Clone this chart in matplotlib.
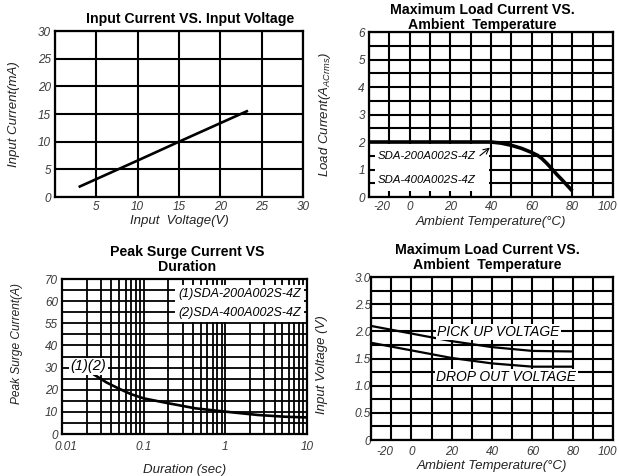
import matplotlib
matplotlib.use("Agg")
import matplotlib.pyplot as plt
from matplotlib.patches import Rectangle
from matplotlib.transforms import ScaledTranslation
import numpy as np

plt.rcParams['font.family'] = ['Liberation Sans', 'DejaVu Sans']
plt.rcParams['font.style'] = 'italic'      # ticks, labels and notes are italic
plt.rcParams['axes.unicode_minus'] = False
plt.rcParams['mathtext.fontset'] = 'custom'
plt.rcParams['mathtext.it'] = 'Liberation Sans:italic'
plt.rcParams['mathtext.rm'] = 'Liberation Sans:italic'

TICK_COLOR = '#3a3a3a'
LABEL_COLOR = '#222222'

# --- data ---
# Input current vs input voltage
in_voltage = [3.0, 10.0, 15.0, 23.2]
in_current = [1.9, 6.6, 10.0, 15.5]

# Maximum load current vs ambient temperature
load_temp = [-20, 0, 20, 40, 45, 50, 55, 60, 63, 65, 67.5, 70, 72.5, 75, 77.5, 80]
load_current = [2.0, 2.0, 2.0, 2.0, 1.96, 1.88, 1.77, 1.62, 1.51, 1.4, 1.22,
                1.02, 0.81, 0.62, 0.42, 0.22]
load_models = ['SDA-200A002S-4Z', 'SDA-400A002S-4Z']

# Peak surge current vs duration
surge_dur = [0.025, 0.035, 0.049, 0.07, 0.1, 0.2, 0.43, 1.0, 2.5, 5.4, 10.0]
surge_current = [26.7, 23.3, 20.6, 18.0, 16.1, 13.9, 11.6, 10.1, 8.6, 7.8, 7.5]
surge_yticks = [0, 10, 20, 30, 40, 50, 60, 70]
surge_ylabels = ['0', '10', '20', '30', '40', '55', '60', '70']
surge_xticks = [0.01, 0.1, 1, 10]
surge_xlabels = ['0.01', '0.1', '1', '10']

# Pick up / drop out voltage vs ambient temperature
volt_temp = [-20, 0, 20, 40, 60, 80]
pickup_v = [2.1, 1.96, 1.82, 1.71, 1.64, 1.63]
dropout_v = [1.79, 1.65, 1.51, 1.41, 1.35, 1.35]

temp_ticks = [-20, 0, 20, 40, 60, 80, 100]


def style_axes(ax, lw=1.5):
    for s in ax.spines.values():
        s.set_linewidth(1.6)
        s.set_color('black')
    ax.tick_params(which='both', length=0, pad=3, labelsize=8.5,
                   labelcolor=TICK_COLOR)
    ax.grid(True, which='both', color='black', linewidth=lw)
    ax.set_axisbelow(True)


def shift(label, dx_px):
    label.set_transform(label.get_transform() +
                        ScaledTranslation(dx_px / 72, 0, fig.dpi_scale_trans))


fig = plt.figure(figsize=(6.19, 4.76), dpi=100)

# ---------- panel 1 ----------
ax1 = fig.add_axes([0.0889, 0.5861, 0.4006, 0.3487])
ax1.plot(in_voltage, in_current, color='black', linewidth=1.9)
ax1.set_xlim(0, 30)
ax1.set_ylim(0, 30)
ax1.set_xticks(np.arange(0, 31, 5))
ax1.set_xticklabels([''] + [str(v) for v in range(5, 31, 5)])
ax1.set_yticks(np.arange(0, 31, 5))
style_axes(ax1)
ax1.set_title('Input Current VS. Input Voltage', fontsize=10.2,
              fontweight='bold', style='normal', pad=6, x=0.544)
ax1.set_xlabel('Input  Voltage(V)', fontsize=9.5, color=LABEL_COLOR,
               labelpad=1)
ax1.set_ylabel('Input Current(mA)', fontsize=9.5, color=LABEL_COLOR)
ax1.yaxis.set_label_coords(-0.141, 0.5)

# ---------- panel 2 ----------
ax2 = fig.add_axes([0.5961, 0.5861, 0.3942, 0.3466])
ax2.plot(load_temp, load_current, color='black', linewidth=2.6,
         solid_capstyle='butt', zorder=4)
ax2.set_xlim(-20, 100)
ax2.set_ylim(0, 6)
ax2.set_xticks(temp_ticks)
ax2.set_xticks(np.arange(-20, 101, 10), minor=True)
ax2.set_yticks(np.arange(0, 7, 1))
ax2.set_yticks(np.arange(0, 6.01, 0.5), minor=True)
style_axes(ax2)
ax2.add_patch(Rectangle((-17, 0.22), 56, 1.72, facecolor='white',
                        edgecolor='none', zorder=2))
ax2.text(-15.5, 1.5, load_models[0], fontsize=8.2, va='center', zorder=3)
ax2.text(-15.5, 0.62, load_models[1], fontsize=8.2, va='center', zorder=3)
ax2.annotate('', xy=(40.5, 1.86), xytext=(33.5, 1.44),
             arrowprops=dict(arrowstyle='->', lw=0.8, color='black'),
             zorder=3)
ax2.set_title('Maximum Load Current VS.\nAmbient  Temperature', fontsize=10.2,
              fontweight='bold', style='normal', pad=0, x=0.463,
              linespacing=1.1)
ax2.set_xlabel('Ambient Temperature(°C)', fontsize=9.5, color=LABEL_COLOR,
               labelpad=2)
ax2.set_ylabel(r'Load Current(A$_{\mathit{ACrms}}$)', fontsize=9.5,
               color=LABEL_COLOR)
ax2.yaxis.set_label_coords(-0.148, 0.5)

# ---------- panel 3 ----------
ax3 = fig.add_axes([0.1002, 0.0882, 0.3958, 0.3256])
ax3.plot(surge_dur, surge_current, color='black', linewidth=1.9, zorder=4)
ax3.set_xscale('log')
ax3.set_xlim(0.01, 10)
ax3.set_ylim(0, 70)
ax3.set_xticks(surge_xticks)
ax3.set_xticklabels(surge_xlabels)
ax3.xaxis.set_minor_formatter(matplotlib.ticker.NullFormatter())
ax3.set_yticks(surge_yticks)
ax3.set_yticklabels(surge_ylabels)
ax3.set_yticks(np.arange(0, 71, 5), minor=True)
style_axes(ax3, lw=1.3)
ax3.tick_params(axis='x', pad=5)
ax3.text(0.975, 0.94, '(1)' + load_models[0] + '\n(2)' + load_models[1],
         transform=ax3.transAxes, ha='right', va='top', fontsize=9,
         linespacing=1.7, zorder=5,
         bbox=dict(facecolor='white', edgecolor='none', pad=2.5))
ax3.text(0.0128, 30.5, '(1)(2)', fontsize=10.5, va='center', zorder=5,
         bbox=dict(facecolor='white', edgecolor='none', pad=1))
ax3.set_title('Peak Surge Current VS\nDuration', fontsize=10.2,
              fontweight='bold', style='normal', pad=6, x=0.51,
              linespacing=1.1)
ax3.set_xlabel('Duration (sec)', fontsize=9.5, color=LABEL_COLOR,
               labelpad=8)
ax3.set_ylabel('Peak Surge Current(A)', fontsize=8.6, color=LABEL_COLOR)
ax3.yaxis.set_label_coords(-0.159, 0.585)

# ---------- panel 4 ----------
ax4 = fig.add_axes([0.5994, 0.0756, 0.3910, 0.3424])
ax4.plot(volt_temp, pickup_v, color='black', linewidth=1.6, zorder=4)
ax4.plot(volt_temp, dropout_v, color='black', linewidth=1.6, zorder=4)
ax4.set_xlim(-20, 100)
ax4.set_ylim(0, 3)
ax4.set_xticks(temp_ticks)
ax4.set_xticks(np.arange(-20, 101, 10), minor=True)
ax4.set_yticks(np.arange(0, 3.01, 0.5))
ax4.set_yticklabels(['0', '0.5', '1.0', '1.5', '2.0', '2.5', '3.0'])
ax4.set_yticks(np.arange(0, 3.01, 0.25), minor=True)
style_axes(ax4)
ax4.tick_params(axis='y', pad=0)
ax4.tick_params(axis='x', pad=4)
ax4.text(43, 1.99, 'PICK UP VOLTAGE', fontsize=10, ha='center',
         va='center', zorder=5,
         bbox=dict(facecolor='white', edgecolor='none', pad=1))
ax4.text(47, 1.16, 'DROP OUT VOLTAGE', fontsize=10, ha='center',
         va='center', zorder=5,
         bbox=dict(facecolor='white', edgecolor='none', pad=1))
ax4.set_title('Maximum Load Current VS.\nAmbient  Temperature', fontsize=10.2,
              fontweight='bold', style='normal', pad=6, x=0.479,
              linespacing=1.1)
ax4.set_xlabel('Ambient Temperature(°C)', fontsize=9.5, color=LABEL_COLOR,
               labelpad=2)
ax4.set_ylabel('Input Voltage (V)', fontsize=9.5, color=LABEL_COLOR)
ax4.yaxis.set_label_coords(-0.178, 0.46)

# nudge the end tick labels the way the original sets them
fig.canvas.draw()
for ax, dx in ((ax2, 3), (ax4, 4)):
    labs = ax.get_xticklabels()
    labs[0].set_ha('left')
    shift(labs[0], dx)
    shift(labs[-1], -4)
shift(ax3.get_xticklabels()[0], 3)

fig.savefig('out.png', dpi=100)
